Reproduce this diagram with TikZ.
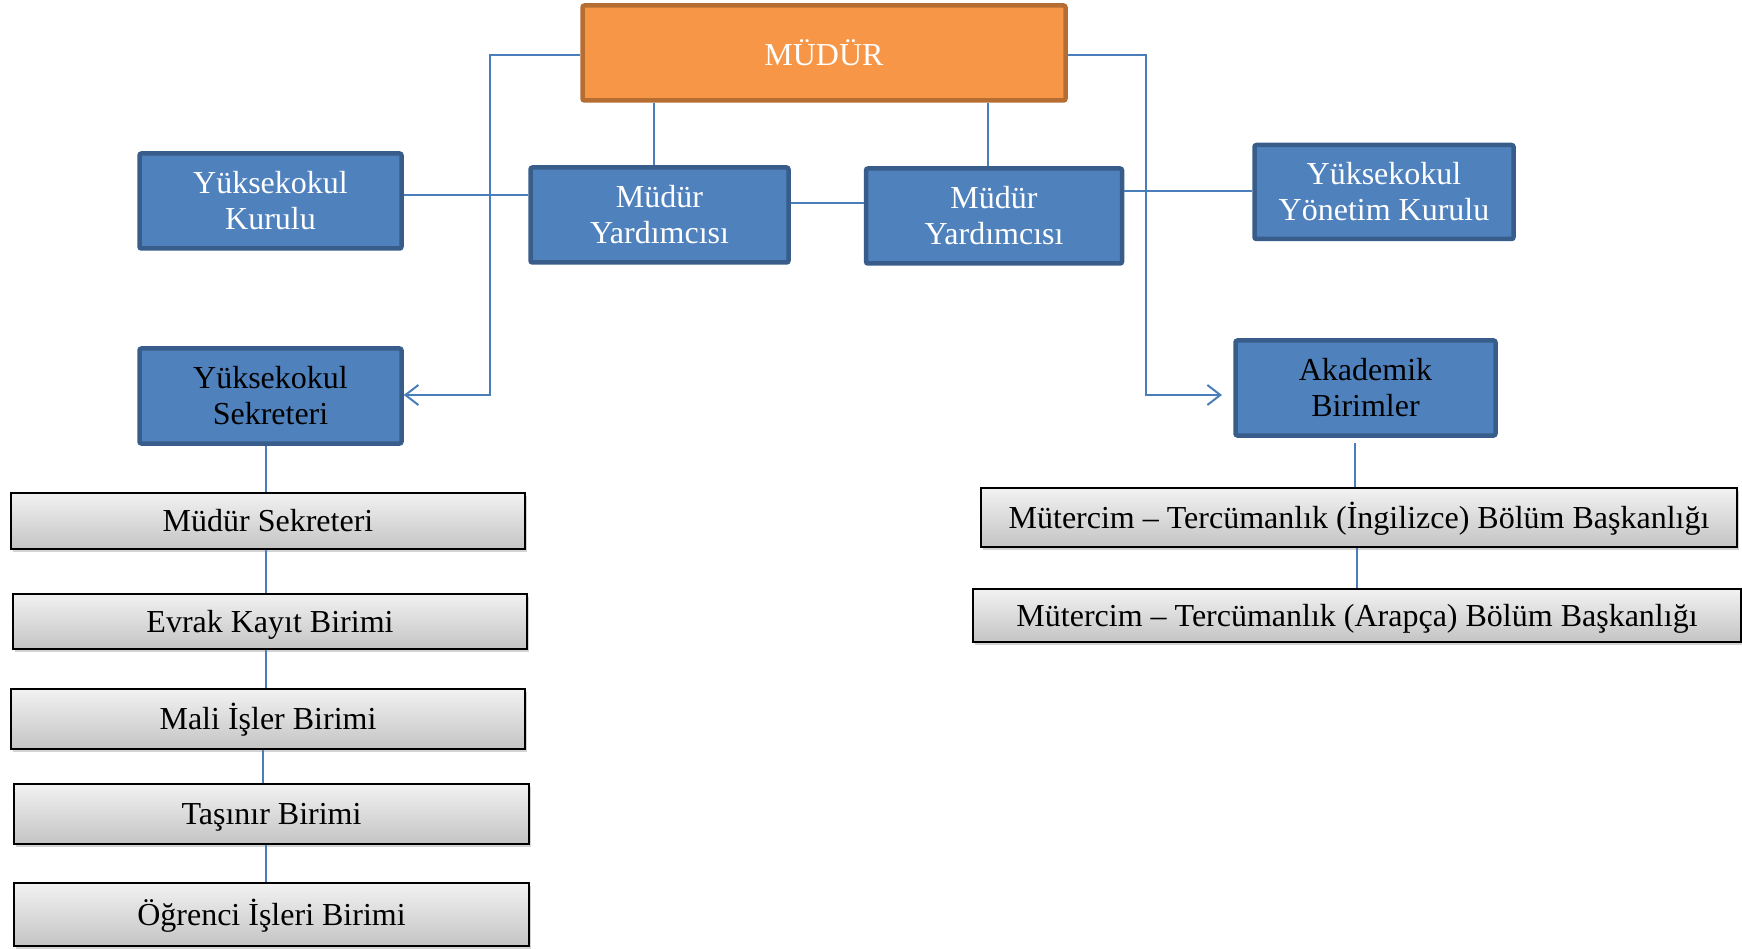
\documentclass[tikz,border=0pt]{standalone}
\usepackage{fontspec}
\setmainfont{Liberation Serif}
\usepackage{xcolor}
\usetikzlibrary{positioning,calc,arrows.meta,shadows}

\definecolor{bluefill}{HTML}{4F81BD}
\definecolor{blueedge}{HTML}{385D8A}
\definecolor{orangefill}{HTML}{F79646}
\definecolor{orangeedge}{HTML}{B66D31}
\definecolor{linkblue}{HTML}{4A7EBB}
\definecolor{graytop}{HTML}{F2F2F2}
\definecolor{graybot}{HTML}{C4C4C4}

\begin{document}
\begin{tikzpicture}[x=1pt,y=-1pt,
	box/.style={inner sep=0pt, align=center, font=\fontsize{32}{36}\selectfont},
	bluebox/.style={box, draw=blueedge, fill=bluefill, line width=4.5pt, rounded corners=2pt, text=white},
	orangebox/.style={box, draw=orangeedge, fill=orangefill, line width=4.5pt, rounded corners=2pt, text=white},
	graybox/.style={box, text height=23pt, text depth=2pt, draw=black, line width=2pt, top color=graytop, bottom color=graybot, drop shadow={shadow xshift=2pt, shadow yshift=-3pt, opacity=0.35}},
	link/.style={draw=linkblue, line width=2pt},
	arr/.style={link, -{Straight Barb[length=13pt,width=20pt]}}]
		\useasboundingbox (0,0) rectangle (1742,949);
		
		\node[orangebox, minimum width=483pt, minimum height=95pt] (mudur) at (824,53) {MÜDÜR};
		\node[bluebox, minimum width=262pt, minimum height=95pt] (kurul) at (270.5,201) {Yüksekokul\\Kurulu};
		\node[bluebox, minimum width=258pt, minimum height=95pt] (yard1) at (659.5,215) {Müdür\\Yardımcısı};
		\node[bluebox, minimum width=256pt, minimum height=95pt] (yard2) at (994,216) {Müdür\\Yardımcısı};
		\node[bluebox, minimum width=259pt, minimum height=94pt] (yonetim) at (1384,192) {Yüksekokul\\Yönetim Kurulu};
		\node[bluebox, text=black, minimum width=262pt, minimum height=95pt] (sekreter) at (270.5,396) {Yüksekokul\\Sekreteri};
		\node[bluebox, text=black, minimum width=260pt, minimum height=95pt] (akademik) at (1365.5,388) {Akademik\\Birimler};
		
		% birimler under the secretary
		\node[graybox, minimum width=514pt, minimum height=56pt] (msek) at (268,521) {Müdür Sekreteri};
		\node[graybox, minimum width=514pt, minimum height=55pt] (evrak) at (270,621.5) {Evrak Kayıt Birimi};
		\node[graybox, minimum width=514pt, minimum height=60pt] (mali) at (268,719) {Mali İşler Birimi};
		\node[graybox, minimum width=515pt, minimum height=60pt] (tasinir) at (271.5,814) {Taşınır Birimi};
		\node[graybox, minimum width=515pt, minimum height=63pt] (ogrenci) at (271.5,914.5) {Öğrenci İşleri Birimi};
		
		\node[graybox, minimum width=756pt, minimum height=59pt] (ingilizce) at (1359,517.5) {Mütercim – Tercümanlık (İngilizce) Bölüm Başkanlığı};
		\node[graybox, minimum width=768pt, minimum height=53pt] (arapca) at (1357,615.5) {Mütercim – Tercümanlık (Arapça) Bölüm Başkanlığı};
		
		\coordinate (lbus) at (490,0);
		\coordinate (rbus) at (1146,0);
		\coordinate (atip) at (1222,395);
		\coordinate (lchain) at (266,0);
		\coordinate (rchain) at (1355,0);
		
		\draw[arr] ([yshift=-2pt]mudur.west) -| (lbus |- atip) -- (sekreter.east |- atip);
		\draw[arr] ([yshift=-2pt]mudur.east) -| (rbus |- atip) -- (atip);
		\draw[link] ([xshift=-5.5pt]yard1.north |- mudur.south) -- ([xshift=-5.5pt]yard1.north);
		\draw[link] ([xshift=-6pt]yard2.north |- mudur.south) -- ([xshift=-6pt]yard2.north);
		\draw[link] ([yshift=6pt]kurul.east) -- ([yshift=6pt]kurul.east -| yard1.west);
		\draw[link] ([yshift=12pt]yard1.east) -- ([yshift=12pt]yard1.east -| yard2.west);
		\draw[link] ([yshift=1pt]yard2.east |- yonetim.west) -- ([yshift=1pt]yonetim.west);
		
		\draw[link] (lchain |- sekreter.south) -- (lchain |- msek.north);
		\draw[link] (lchain |- msek.south) -- (lchain |- evrak.north);
		\draw[link] (lchain |- evrak.south) -- (lchain |- mali.north);
		\draw[link] ([xshift=-3pt]lchain |- mali.south) -- ([xshift=-3pt]lchain |- tasinir.north);
		\draw[link] (lchain |- tasinir.south) -- (lchain |- ogrenci.north);
		
		\draw[link] ($(rchain |- akademik.south)+(0,5)$) -- (rchain |- ingilizce.north);
		\draw[link] ([xshift=2pt]rchain |- ingilizce.south) -- ([xshift=2pt]rchain |- arapca.north);
	\end{tikzpicture}
\end{document}
